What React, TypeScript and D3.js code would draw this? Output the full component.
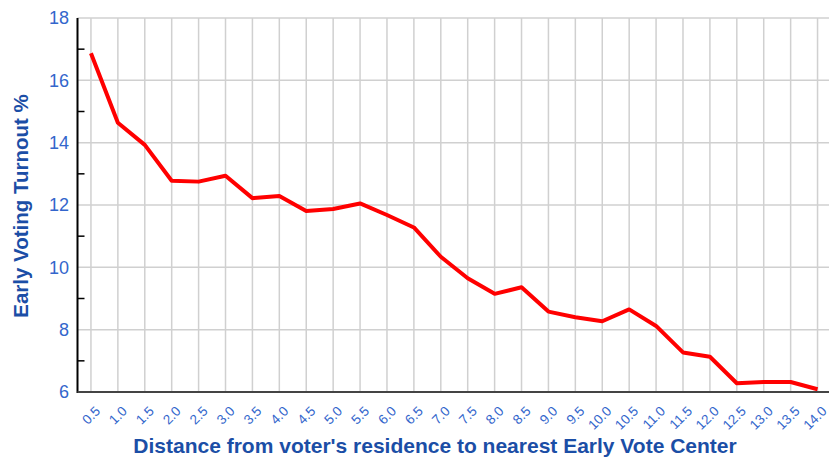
import React from "react";
import * as d3 from "d3";

const categories = ["0.5","1.0","1.5","2.0","2.5","3.0","3.5","4.0","4.5","5.0","5.5","6.0","6.5","7.0","7.5","8.0","8.5","9.0","9.5","10.0","10.5","11.0","11.5","12.0","12.5","13.0","13.5","14.0"];
const turnout = [16.87,14.64,13.93,12.78,12.75,12.94,12.22,12.29,11.81,11.87,12.05,11.68,11.28,10.34,9.65,9.15,9.36,8.58,8.40,8.27,8.65,8.12,7.27,7.13,6.28,6.32,6.32,6.09];
const yMajor = [6,8,10,12,14,16,18];
const yMinor = [7,9,11,13,15,17];

const W = 829, H = 457;
const left = 77.5, right = 831, top = 18, bottom = 392;

export default function App() {
  const x = d3.scalePoint<string>().domain(categories).range([left, right]).padding(0.5);
  const y = d3.scaleLinear().domain([6, 18]).range([bottom, top]);
  const line = d3.line<number>().x((_, i) => x(categories[i])!).y(d => y(d));
  const tickColor = "#3366cc";
  const titleColor = "#1b4ea6";
  return (
    <svg width={W} height={H} style={{ position: "absolute", left: 0, top: 0, fontFamily: "'Liberation Sans', Arial, sans-serif" }}>
      <rect x={0} y={0} width={W} height={H} fill="#fff" />
      {categories.map(c => (
        <line key={c} x1={x(c)} x2={x(c)} y1={top} y2={bottom} stroke="#d0d0d0" strokeWidth={1.5} />
      ))}
      {yMajor.map(v => (
        <line key={v} x1={left} x2={right} y1={y(v)} y2={y(v)} stroke="#d0d0d0" strokeWidth={1.5} />
      ))}
      {yMinor.map(v => (
        <line key={v} x1={left} x2={left + 7} y1={y(v)} y2={y(v)} stroke="#000" strokeWidth={1.5} />
      ))}
      <path d={line(turnout)!} fill="none" stroke="#ff0000" strokeWidth={4} strokeLinejoin="round" />
      <line x1={left} x2={left} y1={top} y2={bottom + 1} stroke="#000" strokeWidth={2} />
      <line x1={left} x2={right} y1={bottom} y2={bottom} stroke="#444" strokeWidth={2} />
      {yMajor.map(v => (
        <text key={v} x={69} y={y(v)} dy="0.36em" textAnchor="end" fontSize={18} fill={tickColor}>{v}</text>
      ))}
      {categories.map(c => (
        <text key={c} transform={`translate(${x(c)! + 10},${bottom + 20}) rotate(-45)`} textAnchor="end" fontSize={13.5} fill={tickColor}>{c}</text>
      ))}
      <text x={435} y={453} textAnchor="middle" fontSize={21} fontWeight="bold" fill={titleColor}>Distance from voter's residence to nearest Early Vote Center</text>
      <text transform={`translate(28,206) rotate(-90)`} textAnchor="middle" fontSize={20.5} fontWeight="bold" fill={titleColor}>Early Voting Turnout %</text>
    </svg>
  );
}
